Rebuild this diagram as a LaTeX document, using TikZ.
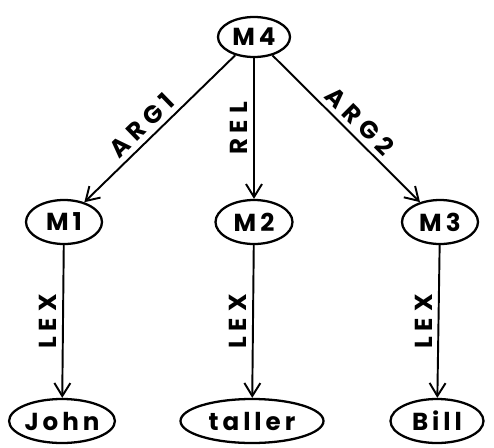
\documentclass[tikz,border=0pt]{standalone}
\usepackage{fontspec}
\setmainfont{Poppins}
\usetikzlibrary{shapes.geometric,arrows.meta}
\tikzset{
  concept/.style={draw, ellipse, line width=1.3pt, inner sep=0pt,
    font=\bfseries\fontsize{14}{14}\selectfont\addfontfeatures{LetterSpace=16}},
  arc/.style={line width=1.1pt, -{Straight Barb[length=2.6mm,width=3.2mm,line width=1.1pt]}},
  arclabel/.style={font=\bfseries\fontsize{14}{14}\selectfont\addfontfeatures{LetterSpace=24}, inner sep=3pt}
}
\begin{document}
\begin{tikzpicture}[x=0.02cm, y=-0.02cm]
    \useasboundingbox (0,0) rectangle (494,447);
    % Nodo superior
    \node[concept, minimum width=72*0.02cm, minimum height=40*0.02cm] (m4) at (254,37) {M4};

    % Nodos intermedios
    \node[concept, minimum width=76*0.02cm, minimum height=44*0.02cm] (m1) at (64,222) {M1};
    \node[concept, minimum width=77*0.02cm, minimum height=44*0.02cm] (m2) at (254,222) {M\,2};
    \node[concept, minimum width=76*0.02cm, minimum height=44*0.02cm] (m3) at (440,222) {M\,3};

    % Nodos inferiores
    \node[concept, minimum width=105*0.02cm, minimum height=44*0.02cm] (john) at (62,421) {John};
    \node[concept, minimum width=143*0.02cm, minimum height=44*0.02cm] (taller) at (252,421) {taller};
    \node[concept, minimum width=93*0.02cm, minimum height=44*0.02cm] (bill) at (437,421) {Bill};

    % Arcos
    \draw[arc] (m4) -- (m1) node[arclabel, pos=0.55, sloped, above] {ARG1};
    \draw[arc] (m4) -- (m2) node[arclabel, midway, rotate=90, anchor=south] {REL};
    \draw[arc] (m4) -- (m3) node[arclabel, pos=0.52, sloped, above] {ARG2};
    \draw[arc] (m1) -- (john) node[arclabel, midway, rotate=90, anchor=south] {LEX};
    \draw[arc] (m2) -- (taller) node[arclabel, midway, rotate=90, anchor=south] {LEX};
    \draw[arc] (m3) -- (bill) node[arclabel, midway, rotate=90, anchor=south] {LEX};
\end{tikzpicture}
\end{document}
